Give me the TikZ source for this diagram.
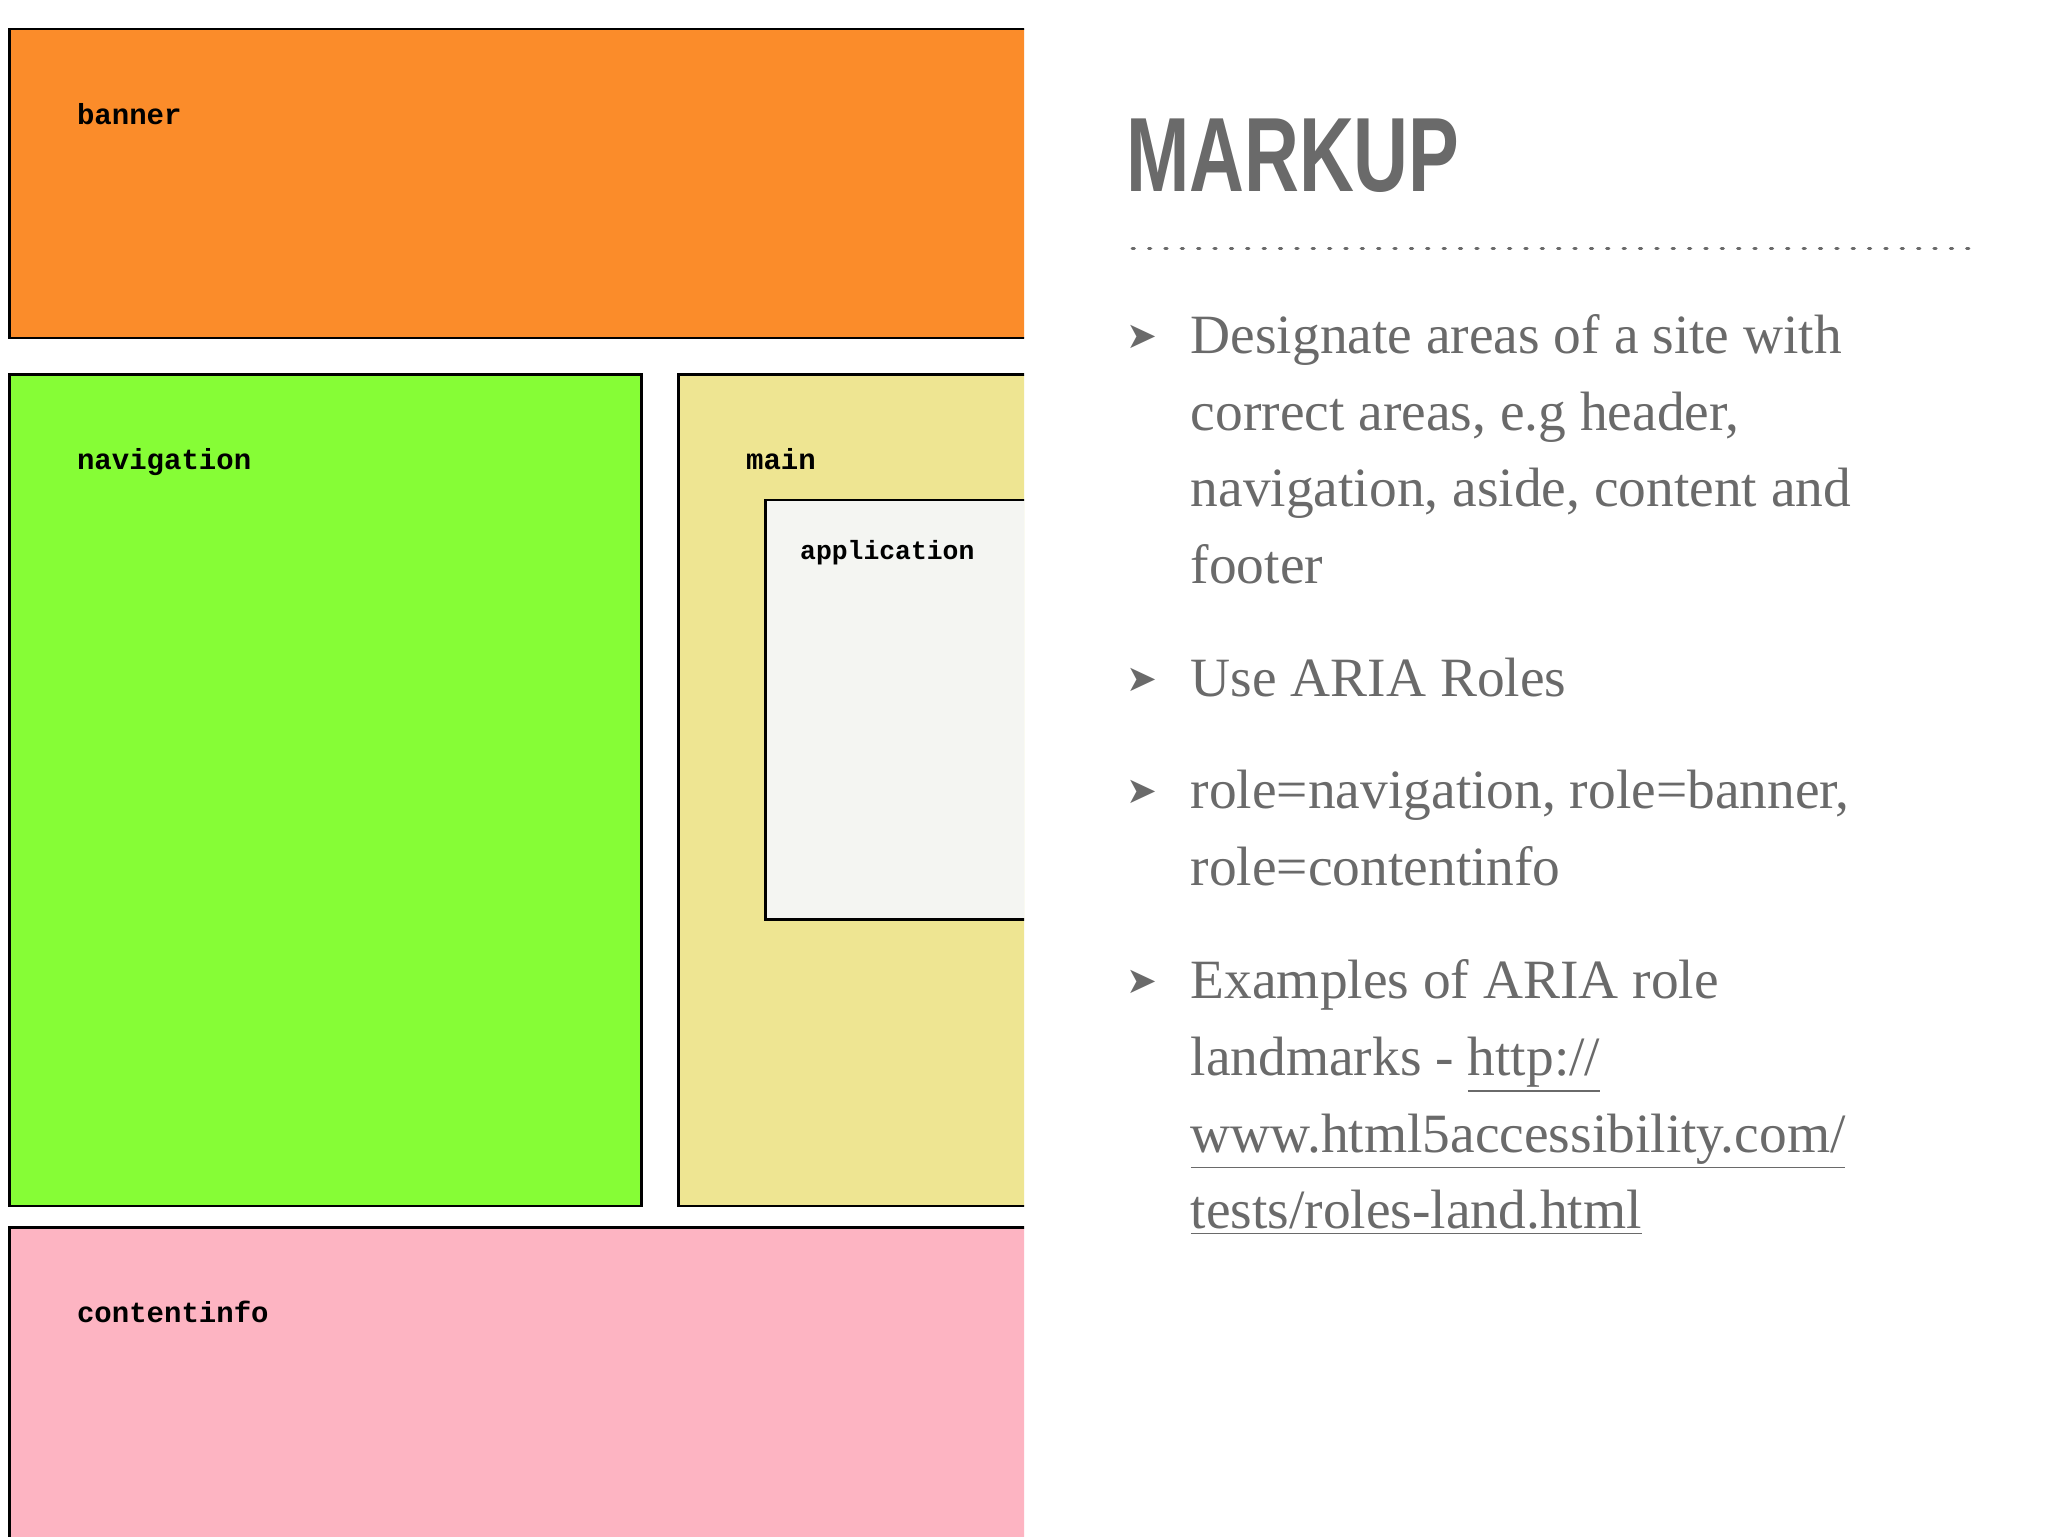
\documentclass[tikz,border=0pt]{standalone}
\usepackage{fontspec}
\setmainfont{Liberation Serif}
\newfontfamily\monob{Liberation Mono}
\newfontfamily\sansb{Liberation Sans}
\newfontfamily\djv{DejaVu Sans}
\definecolor{cOr}{HTML}{FB8C2A}
\definecolor{cGr}{HTML}{86FD36}
\definecolor{cYe}{HTML}{EEE592}
\definecolor{cAp}{HTML}{F4F5F2}
\definecolor{cPk}{HTML}{FDB4C2}
\definecolor{cTx}{HTML}{6A6A6A}
\begin{document}
\begin{tikzpicture}[x=0.5pt,y=-0.5pt,
  region/.style={draw=black,line width=1pt},
  lbl/.style={anchor=base west,inner sep=0,font=\monob\bfseries\fontsize{11}{13}\selectfont},
  bl/.style={anchor=base west,inner sep=0,text=cTx,font=\fontsize{21}{25}\selectfont},
  arr/.style={anchor=base west,inner sep=0,text=cTx,font=\djv\fontsize{14}{16}\selectfont}]
\useasboundingbox (0,0) rectangle (1552,1164);
\fill[white] (0,0) rectangle (1552,1164);
\begin{scope}
\clip (0,0) rectangle (776,1164);
\draw[region,fill=cOr] (7,22) rectangle (800,256);
\draw[region,fill=cGr] (7,284) rectangle (486,914);
\draw[region,fill=cYe] (514,284) rectangle (800,914);
\draw[region,fill=cAp] (580,379) rectangle (800,697);
\draw[region,fill=cPk] (7,930) rectangle (800,1190);
\end{scope}
\node[lbl] (lb) at (58,94) {banner};
\node[lbl] (ln) at (58,356) {navigation};
\node[lbl] (lm) at (565,356) {main};
\node[lbl,font=\monob\bfseries\fontsize{10}{12}\selectfont] (la) at (606,424) {application};
\node[lbl] (lc) at (58,1002) {contentinfo};
\node[anchor=base west,inner sep=0,text=cTx,xscale=0.72,font=\sansb\bfseries\fontsize{40}{44}\selectfont] (title) at (853,145) {MARKUP};
\draw[cTx,line width=1.2pt,dash pattern=on 0.8pt off 5.4pt,line cap=round] (858,188) -- (1497,188);
\node[arr] (a1) at (853,264) {➤};
\node[bl] (t1) at (902,268) {Designate areas of a site with};
\node[bl] (t2) at (902,326) {correct areas, e.g header,};
\node[bl] (t3) at (902,384) {navigation, aside, content and};
\node[bl] (t4) at (902,442) {footer};
\node[arr] (a2) at (853,524) {➤};
\node[bl] (t5) at (902,528) {Use ARIA Roles};
\node[arr] (a3) at (853,609) {➤};
\node[bl] (t6) at (902,613) {role=navigation, role=banner,};
\node[bl] (t7) at (902,671) {role=contentinfo};
\node[arr] (a4) at (853,753) {➤};
\node[bl] (t8) at (902,757) {Examples of ARIA role};
\node[bl] (t9) at (902,815) {landmarks - \underline{http://}};
\node[bl] (t10) at (902,873) {\underline{www.html5accessibility.com/}};
\node[bl] (t11) at (902,931) {\underline{tests/roles-land.html}};
\end{tikzpicture}
\end{document}
